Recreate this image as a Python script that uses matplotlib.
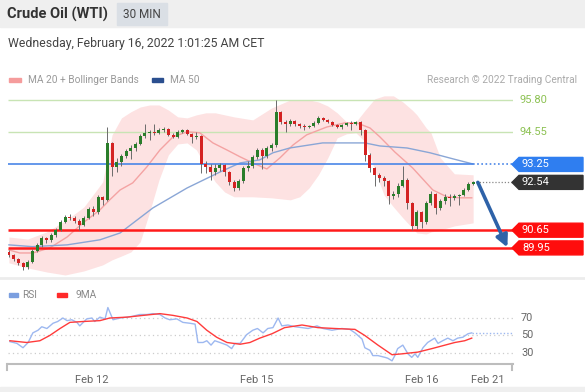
import numpy as np
import matplotlib
matplotlib.use("Agg")
import matplotlib.pyplot as plt
import matplotlib.transforms as mtransforms
from matplotlib.patches import Rectangle, Polygon

plt.rcParams["font.family"] = ["Roboto", "DejaVu Sans"]

# ---- data (30 min candles) ----
first_open = 89.80
closes = [89.67, 89.51, 89.36, 89.20, 89.40, 89.83, 90.07, 90.35, 90.27, 90.46,
          90.66, 90.98, 91.18, 91.14, 91.02, 90.86, 91.14, 91.49, 91.37, 91.96,
          91.85, 94.10, 93.15, 93.35, 93.59, 93.78, 93.90, 94.06, 94.38, 94.50,
          94.54, 94.50, 94.61, 94.65, 94.42, 94.34, 94.54, 94.61, 94.46, 94.34,
          94.38, 93.27, 93.15, 92.95, 93.11, 93.23, 92.95, 92.56, 92.32, 92.60,
          93.11, 93.19, 93.55, 93.82, 93.59, 93.90, 94.02, 95.33, 94.93, 94.85,
          94.97, 94.85, 94.77, 94.73, 94.77, 94.89, 95.09, 95.01, 94.93, 94.81,
          94.73, 94.81, 94.89, 94.85, 94.93, 94.61, 93.63, 93.11, 92.84, 92.72,
          92.60, 92.01, 92.08, 92.40, 92.64, 91.73, 90.82, 91.37, 90.98, 91.73,
          92.08, 91.53, 91.81, 91.97, 91.93, 92.01, 92.05, 92.24, 92.48, 92.54]
highs = [89.85, 89.72, 89.55, 89.40, 89.46, 89.90, 90.15, 90.42, 90.40, 90.55,
         90.72, 91.05, 91.25, 91.28, 91.20, 91.08, 91.20, 91.55, 91.60, 92.05,
         92.02, 94.72, 94.15, 93.50, 93.65, 93.85, 94.00, 94.15, 94.45, 94.85,
         94.62, 94.85, 94.70, 94.72, 94.68, 94.48, 94.60, 94.66, 94.64, 94.50,
         94.52, 94.42, 93.40, 93.25, 93.25, 93.30, 93.28, 93.00, 92.62, 92.68,
         93.20, 93.40, 93.62, 93.90, 93.88, 93.98, 94.10, 95.80, 95.38, 95.00,
         95.05, 95.02, 94.90, 94.85, 94.82, 94.95, 95.15, 95.12, 95.06, 94.96,
         94.85, 94.86, 94.94, 94.95, 94.98, 94.96, 94.65, 93.70, 93.15, 92.90,
         92.80, 92.65, 92.20, 92.50, 93.20, 92.70, 91.78, 91.45, 91.42, 91.80,
         92.20, 92.12, 91.90, 92.10, 92.08, 92.10, 92.10, 92.30, 92.55, 92.60]
lows = [89.60, 89.45, 89.28, 89.08, 89.12, 89.35, 89.78, 90.00, 90.15, 90.20,
        90.40, 90.60, 90.92, 91.05, 90.95, 90.65, 90.80, 91.08, 91.20, 91.30,
        91.65, 91.80, 92.80, 92.95, 93.20, 93.50, 93.45, 93.80, 94.00, 94.30,
        94.20, 94.40, 94.45, 94.55, 94.38, 94.28, 94.30, 94.50, 94.40, 94.10,
        94.25, 92.90, 92.90, 92.65, 92.85, 93.00, 92.80, 92.45, 92.20, 92.25,
        92.50, 93.00, 93.10, 93.45, 93.05, 93.50, 93.80, 93.95, 94.85, 94.55,
        94.78, 94.78, 94.70, 94.62, 94.68, 94.72, 94.85, 94.95, 94.88, 94.75,
        94.68, 94.66, 94.75, 94.62, 94.80, 94.40, 93.40, 92.95, 92.40, 92.55,
        92.40, 91.70, 91.90, 91.95, 92.35, 91.50, 90.65, 90.70, 90.75, 90.90,
        91.65, 91.30, 91.45, 91.70, 91.60, 91.85, 91.65, 92.00, 92.20, 92.42]

# Bollinger bands (20) sampled at candle index
bb_idx = [0, 4, 8, 12, 16, 20, 22, 24, 26, 28, 30, 32, 34, 36, 38, 40, 42, 44, 46, 48,
          52, 56, 60, 62, 64, 66, 68, 70, 72, 74, 76, 78, 80, 82, 84, 86, 87, 89, 90, 92,
          95, 99]
bb_upper = [90.38, 90.30, 90.58, 91.02, 91.57, 92.56, 94.42, 95.09, 95.33, 95.52,
            95.60, 95.60, 95.40, 95.13, 95.09, 95.21, 95.29, 95.29, 95.21, 95.13,
            95.01, 95.48, 95.80, 95.80, 95.80, 95.72, 95.56, 95.29, 94.93, 94.93,
            95.40, 95.84, 95.96, 95.96, 95.72, 95.40, 95.21, 94.69, 94.50, 93.51,
            92.88, 92.84]
bb_lower = [89.36, 89.16, 89.00, 88.88, 89.04, 89.28, 89.48, 89.63, 89.79, 90.19,
            91.37, 92.64, 93.63, 94.06, 94.10, 93.82, 93.15, 92.56, 92.16, 91.97,
            91.97, 91.93, 91.85, 91.97, 92.32, 92.84, 93.51, 94.30, 94.46, 94.50,
            94.14, 93.03, 92.04, 91.57, 91.14, 90.74, 90.54, 90.50, 90.58, 90.66,
            90.82, 90.94]

ma20_idx = [0, 2.3, 5.1, 8.7, 12.4, 15.8, 19.4, 21.5, 23.7, 26.4, 29.4, 32.2, 35.0,
            38.0, 40.7, 43.5, 46.5, 49.3, 52.0, 55.0, 57.8, 60.6, 63.5, 67.8, 71.6,
            74.2, 77.0, 79.1, 82.3, 86.1, 90.4, 93.4, 96.2, 98.7]
ma20 = [89.87, 89.75, 89.75, 89.95, 90.38, 90.94, 91.45, 91.85, 92.24, 92.52, 93.15,
        93.82, 94.34, 94.54, 94.50, 94.10, 93.82, 93.55, 93.31, 93.07, 93.51, 94.02,
        94.42, 94.73, 94.89, 94.89, 94.69, 94.34, 93.74, 93.11, 92.24, 91.97, 91.93,
        91.93]

ma50_idx = [0, 5, 12.4, 19.4, 23.7, 30.7, 38.0, 45.0, 49.3, 53.5, 56.3, 59.9, 66.9,
            75.9, 79.1, 84.9, 89.8, 94.7, 98.9]
ma50 = [90.07, 90.00, 90.07, 90.27, 90.54, 91.53, 92.32, 92.95, 93.31, 93.43, 93.71,
        93.90, 94.10, 94.10, 93.98, 93.90, 93.71, 93.47, 93.27]

rsi_idx = [0.2, 1.7, 3.0, 4.1, 5.1, 6.2, 7.0, 8.1, 9.4, 10.4, 11.5, 12.4, 13.4, 14.5,
           15.1, 16.6, 17.7, 18.3, 19.4, 20.5, 21.1, 22.2, 23.7, 25.2, 26.4, 27.9,
           29.4, 30.7, 32.2, 33.3, 34.3, 35.8, 37.1, 38.6, 39.7, 40.3, 41.4, 42.2,
           43.1, 43.9, 45.0, 46.5, 47.5, 48.2, 49.3, 50.7, 52.0, 53.0, 54.2, 55.2,
           56.3, 57.4, 58.2, 59.5, 61.0, 62.5, 63.8, 65.7, 67.0, 68.9, 71.0, 72.7,
           73.8, 75.3, 75.9, 77.0, 77.6, 78.7, 80.2, 80.8, 81.7, 82.3, 82.9, 84.0,
           85.1, 85.9, 86.6, 87.2, 88.3, 89.3, 90.8, 91.5, 92.5, 93.6, 94.7, 95.7,
           96.8, 97.9, 98.7]
rsi = [43, 41, 36, 42, 53, 56, 60, 58, 64, 66, 70, 67, 68, 65, 61, 69, 70, 66, 71, 69,
       82, 68, 70, 71, 72, 74, 74, 75, 74, 70, 68, 69, 65, 64, 63, 42, 42, 44, 39, 44,
       42, 39, 35, 41, 41, 51, 56, 58, 53, 58, 59, 70, 61, 62, 60, 59, 58, 61, 58, 56,
       58, 57, 53, 46, 36, 33, 27, 27, 25, 24, 21, 27, 35, 39, 29, 25, 29, 25, 36, 42,
       47, 41, 44, 47, 44, 47, 48, 52, 53]

ma9_idx = [0.2, 3.8, 6.6, 8.7, 10.9, 13.0, 15.8, 19.4, 21.5, 25.2, 28.6, 32.2, 35.0,
           38.0, 40.1, 42.2, 44.3, 46.5, 49.3, 51.4, 53.5, 56.1, 58.8, 62.5, 65.9,
           69.5, 73.8, 75.9, 78.7, 81.7, 83.8, 87.2, 90.2, 93.0, 95.1, 97.2, 98.7]
ma9 = [44, 42, 44, 50, 58, 65, 66, 67, 70, 71, 73, 75, 73, 70, 66, 56, 48, 42, 40, 42,
       47, 52, 59, 62, 59, 58, 57, 50, 39, 28, 29, 31, 35, 39, 42, 44, 47]

levels_green = [95.80, 94.55]
level_ma50 = 93.25
last_price = 92.54
levels_red = [90.65, 89.95]
rsi_levels = [70, 50, 30]
date_ticks = [17.7, 52.9, 88.1, 102.1]
date_labels = ["Feb 12", "Feb 15", "Feb 16", "Feb 21"]

# ---- figure ----
W, H = 585, 392
fig = plt.figure(figsize=(W / 100, H / 100), dpi=100)


def fx(px):
    return px / W


def fy(py):
    return 1 - py / H


# header
fig.patches.append(Rectangle((0, fy(27)), 1, 27 / H, transform=fig.transFigure,
                             color="#efefef", zorder=0))
fig.patches.append(Rectangle((fx(117), fy(25)), 50 / W, 22 / H, transform=fig.transFigure,
                             color="#dadfe5", zorder=1))
fig.text(fx(7), fy(14), "Crude Oil (WTI)", fontsize=10.5, fontweight="bold",
         color="#333333", va="center")
fig.text(fx(142), fy(14), "30 MIN", fontsize=8.5, color="#444444", va="center", ha="center")
fig.text(fx(8), fy(43), "Wednesday, February 16, 2022 1:01:25 AM CET", fontsize=8.8,
         color="#444444", va="center")

# legend row
fig.patches.append(Rectangle((fx(9), fy(82)), 12 / W, 4 / H, transform=fig.transFigure,
                             color="#f59c9c"))
fig.text(fx(28), fy(80), "MA 20 + Bollinger Bands", fontsize=7.3, color="#999999", va="center")
fig.patches.append(Rectangle((fx(152), fy(82)), 11 / W, 4 / H, transform=fig.transFigure,
                             color="#2b4f8f"))
fig.text(fx(170), fy(80), "MA 50", fontsize=7.3, color="#999999", va="center")
fig.text(fx(577), fy(80), "Research \u00a9 2022 Trading Central", fontsize=7.3,
         color="#aaaaaa", va="center", ha="right")

# separators
fig.lines.append(plt.Line2D([0, 1], [fy(278), fy(278)], transform=fig.transFigure,
                            color="#ececec", lw=2))
fig.patches.append(Rectangle((0, 0), 1, 5 / H, transform=fig.transFigure, color="#efefef"))

# ---- price panel ----
x0, x1 = -0.2, 107.5
ax = fig.add_axes([fx(8), fy(277), (513 - 8) / W, (277 - 86) / H])
ax.set_xlim(x0, x1)
ax.set_ylim(88.80, 96.35)
ax.axis("off")
trans = mtransforms.blended_transform_factory(fig.transFigure, ax.transData)

ax.fill_between(bb_idx, bb_lower, bb_upper, color="#fde2e2", lw=0, zorder=1)
ax.plot(ma20_idx, ma20, color="#f4a3a3", lw=1, zorder=2)
ax.plot(ma50_idx, ma50, color="#8aa6d6", lw=1, zorder=2)

for lv in levels_green:
    ax.hlines(lv, x0, x1, color="#c8e4b4", lw=1, zorder=1.5)
    ax.text(fx(520), lv, f"{lv:.2f}", transform=trans, color="#8cc152",
            fontsize=8, va="center")

n = len(closes)
idx = np.arange(n)
c = np.array(closes)
o = np.r_[first_open, c[:-1]]
up = c >= o
ax.vlines(idx, lows, highs, color="#6b6b6b", lw=0.7, zorder=3)
ax.bar(idx, np.maximum(np.abs(c - o), 0.025), bottom=np.minimum(o, c), width=0.64,
       color=np.where(up, "#2a7d2a", "#d42222"), lw=0, zorder=4)

ax.hlines(level_ma50, x0, n - 1, color="#4a86e8", lw=1.2, zorder=2.5)
ax.hlines(level_ma50, n - 1, x1, color="#4a86e8", lw=1.2, linestyles=(0, (1, 1.5)), zorder=2.5)
ax.hlines(last_price, n - 1, x1, color="#888888", lw=0.9, linestyles=(0, (1, 1.5)), zorder=2.5)
for lv in levels_red:
    ax.hlines(lv, x0, x1, color="#ff1a1a", lw=1.8, zorder=2.5)

hh = 7 * (96.35 - 88.80) / 191


def tag(price, text, color):
    pts = [(fx(512), price), (fx(519), price + hh), (fx(583), price + hh),
           (fx(583), price - hh), (fx(519), price - hh)]
    ax.add_patch(Polygon(pts, closed=True, transform=trans, color=color,
                         clip_on=False, zorder=5))
    ax.text(fx(522), price, text, transform=trans, color="white", fontsize=8,
            va="center", zorder=6)


tag(level_ma50, f"{level_ma50:.2f}", "#2f7ef0")
tag(last_price, f"{last_price:.2f}", "#333333")
for lv in levels_red:
    tag(lv, f"{lv:.2f}", "#ff0d0d")

ax.annotate("", xy=(106.3, levels_red[1] + 0.02), xytext=(100.0, last_price),
            arrowprops=dict(arrowstyle="-|>,head_width=0.35,head_length=0.7",
                            color="#2e62a8", lw=2.6, shrinkA=0, shrinkB=0), zorder=6)

# ---- RSI panel ----
rax = fig.add_axes([fx(8), fy(364), (513 - 8) / W, (364 - 300) / H])
rax.set_xlim(x0, x1)
rax.set_ylim(17.4, 90.6)
for s in ["top", "left", "right"]:
    rax.spines[s].set_visible(False)
rax.spines["bottom"].set_color("#bdbdbd")
rax.spines["bottom"].set_linewidth(1.5)
rax.set_yticks([])
rax.set_xticks(date_ticks)
rax.set_xticklabels(date_labels, fontsize=8, color="#666666")
rax.tick_params(axis="x", length=0, pad=8)
rax.patch.set_alpha(0)

for lv in rsi_levels:
    rax.hlines(lv, x0, x1, color="#cccccc", lw=0.9, linestyles=(0, (1, 2.5)))
    rax.text(fx(521), lv, str(lv), transform=mtransforms.blended_transform_factory(
        fig.transFigure, rax.transData), color="#666666", fontsize=7.8, va="center")

rax.plot(rsi_idx, rsi, color="#9db8f0", lw=1)
rax.hlines(rsi[-1], rsi_idx[-1], x1, color="#9db8f0", lw=1, linestyles=(0, (1, 1.5)))
rax.plot(ma9_idx, ma9, color="#ff3b3b", lw=1)

for px in (7, 512):
    fig.lines.append(plt.Line2D([fx(px), fx(px)], [fy(364), fy(370)],
                                transform=fig.transFigure, color="#bdbdbd", lw=1.5))

fig.patches.append(Rectangle((fx(9), fy(297)), 9 / W, 4 / H, transform=fig.transFigure,
                             color="#7b9fe0"))
fig.text(fx(22), fy(295), "RSI", fontsize=7.3, color="#888888", va="center")
fig.patches.append(Rectangle((fx(57), fy(297)), 10 / W, 4 / H, transform=fig.transFigure,
                             color="#ff2a2a"))
fig.text(fx(75), fy(295), "9MA", fontsize=7.3, color="#888888", va="center")

fig.savefig("out.png", dpi=100)
